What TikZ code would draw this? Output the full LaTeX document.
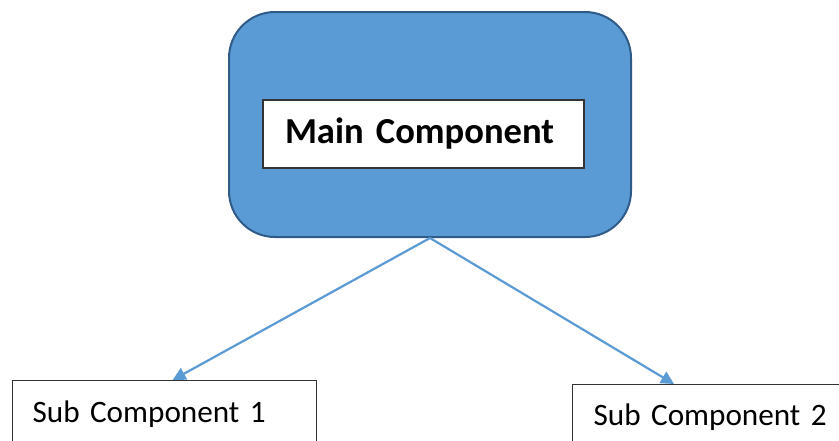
\documentclass[tikz,border=0pt]{standalone}
\usepackage{fontspec}
\setmainfont{Carlito}
\usepackage{tikz}
\usetikzlibrary{arrows.meta, positioning, calc}

\definecolor{mainblue}{HTML}{5B9BD5}
\definecolor{mainedge}{HTML}{2F5B89}

\begin{document}
\begin{tikzpicture}[
    x=1pt, y=-1pt,
    outer/.style={rectangle, draw=mainedge, fill=mainblue, line width=2pt, rounded corners=46pt, minimum width=402pt, minimum height=225pt},
    title/.style={rectangle, draw=black!80, fill=white, line width=1.3pt, inner ysep=0pt, inner xsep=22pt, text width=277pt, minimum height=68pt, align=left, font=\fontsize{36.6}{40}\selectfont\bfseries},
    sub/.style={rectangle, draw=black!80, fill=white, line width=1.3pt, anchor=north west, inner ysep=0pt, align=left, font=\fontsize{31.2}{36}\selectfont},
    line/.style={-{Triangle[length=13pt, width=13pt]}, draw=mainblue, line width=2.2pt}
]
\useasboundingbox (0,0) rectangle (839,440);
\clip (0,0) rectangle (839,440);

% Nodes
\node[outer] (main) at (430,124.5) {};
\node[title] (name) at (423.5,134) {Main Component};
\node[sub, inner xsep=20pt, text width=264pt, text height=42pt, text depth=60pt] (sub1) at (12,380) {Sub Component 1};
\node[sub, inner xsep=21pt, text width=290pt, text height=41pt, text depth=60pt] (sub2) at (572,384) {Sub Component 2};

% Connections
\draw[line] (main.south) -- ([xshift=8pt]sub1.north);
\draw[line] (main.south) -- ([xshift=102pt]sub2.north west);

\end{tikzpicture}
\end{document}
